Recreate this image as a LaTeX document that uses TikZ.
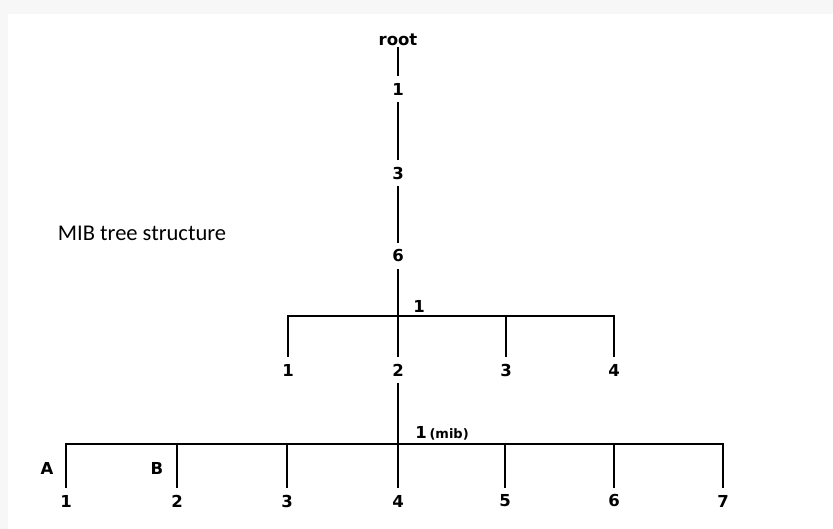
\documentclass[tikz,border=0pt]{standalone}
\usepackage{fontspec}
\newfontfamily\lblfont{DejaVu Sans}
\newfontfamily\capfont{Carlito}
\usetikzlibrary{positioning}
\tikzset{
    mibnode/.style={inner xsep=1pt, inner ysep=8pt, font=\lblfont\bfseries\fontsize{16.5}{20}\selectfont},
    mibtag/.style={inner sep=1pt, font=\lblfont\bfseries\fontsize{16.5}{20}\selectfont},
    mibline/.style={line width=2pt, draw=black, line cap=rect},
    mibcaption/.style={inner sep=0pt, font=\capfont\fontsize{22.5}{27}\selectfont}
}

\begin{document}
\begin{tikzpicture}[x=1pt, y=-1pt]
    % page frame with faint shadow
    \useasboundingbox (0,0) rectangle (833,529);
    \fill[black!3] (0,0) rectangle (833,529);
    \fill[white] (8,14) rectangle (833,529);

    \node[mibcaption] (caption) at (142,233) {MIB tree structure};

    % trunk
    \node[mibnode, inner ysep=2pt] (root) at (398,40) {root};
    \node[mibnode] (v1) at (398,89) {1};
    \node[mibnode] (v3) at (398,173) {3};
    \node[mibnode] (v6) at (398,256) {6};
    \draw[mibline] (root) -- (v1);
    \draw[mibline] (v1) -- (v3);
    \draw[mibline] (v3) -- (v6);

    % first level under 6
    \coordinate (j1) at (398,316);
    \coordinate (b1l) at (288,316);
    \coordinate (b1c) at (506,316);
    \coordinate (b1r) at (614,316);
    \node[mibtag] (t1) at (419,306) {1};
    \node[mibnode] (c1) at (288,370) {1};
    \node[mibnode] (c2) at (398,370) {2};
    \node[mibnode] (c3) at (506,370) {3};
    \node[mibnode] (c4) at (614,370) {4};
    \draw[mibline] (v6) -- (j1) -- (c2);
    \draw[mibline] (b1l) -- (b1r);
    \draw[mibline] (b1l) -- (c1);
    \draw[mibline] (b1c) -- (c3);
    \draw[mibline] (b1r) -- (c4);

    % mib level
    \coordinate (j2) at (398,444);
    \node[mibtag] (t2) at (442,433) {1\,{\fontsize{13}{15}\selectfont(mib)}};
    \draw[mibline] (c2) -- (j2);
    \draw[mibline] (66,444) coordinate (b2l) -- (723,444) coordinate (b2r);
    \foreach \i/\x in {1/66,2/177,3/287,4/398,5/505,6/614,7/723} {
        \coordinate (k\i) at (\x,444);
        \node[mibnode] (d\i) at (\x,501) {\i};
        \draw[mibline] (k\i) -- (d\i);
    }
    \node[mibtag] (lA) at (47,468) {A};
    \node[mibtag] (lB) at (157,468) {B};
\end{tikzpicture}
\end{document}
